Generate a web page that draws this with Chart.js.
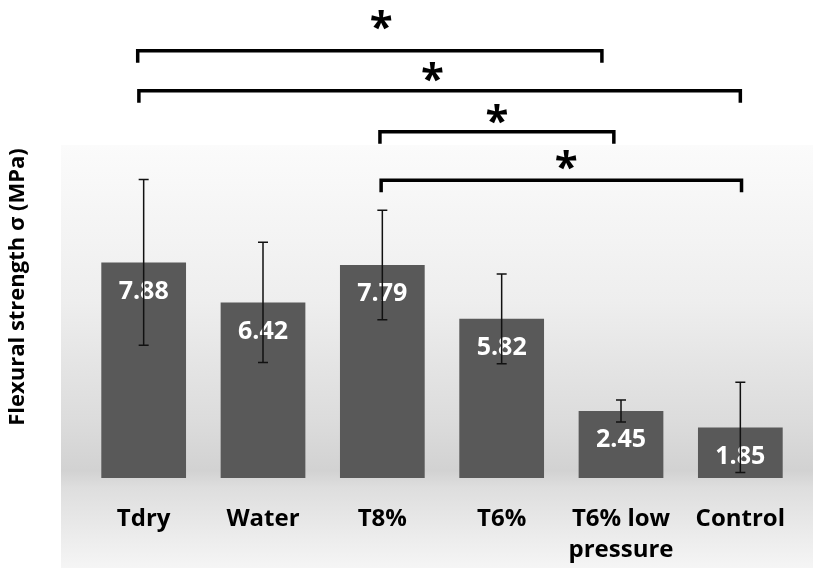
<!DOCTYPE html>
<html>
<head>
<meta charset="utf-8">
<script src="https://cdn.jsdelivr.net/npm/chart.js@4.4.0/dist/chart.umd.min.js"></script>
<style>
  html, body { margin: 0; padding: 0; background: #fff; }
  #wrap { width: 813px; height: 568px; }
</style>
</head>
<body>
<div id="wrap"><canvas id="chart" width="813" height="568"></canvas></div>
<script>
// --- data ---
const categories = ['Tdry', 'Water', 'T8%', 'T6%', ['T6% low', 'pressure'], 'Control'];
const strength = [7.88, 6.42, 7.79, 5.82, 2.45, 1.85];
const errors = [3.03, 2.2, 2.0, 1.64, 0.4, 1.65];

// significance brackets: [from index, to index, height (MPa)]
const bracketFrom = [-0.05, -0.04, 1.98, 1.99];
const bracketTo = [3.84, 5.0, 3.94, 5.01];
const bracketLevel = [15.62, 14.16, 12.66, 10.89];
const starPos = [1.99, 2.42, 2.96, 3.54];
const starLevel = [16.72, 14.82, 13.28, 11.6];

const FONT = '"Open Sans", "DejaVu Sans", sans-serif';

// background panel with grey gradient
const backdrop = {
    id: 'backdrop',
    beforeDraw(chart) {
        const ctx = chart.ctx;
        const top = 145, left = 61;
        const g = ctx.createLinearGradient(0, top, 0, chart.height);
        g.addColorStop(0, '#fbfbfb');
        g.addColorStop(0.37, '#eeeeee');
        g.addColorStop(0.65, '#dcdcdc');
        g.addColorStop(0.77, '#d2d2d2');
        g.addColorStop(0.81, '#dedede');
        g.addColorStop(1, '#f5f5f5');
        ctx.save();
        ctx.fillStyle = g;
        ctx.fillRect(left, top, chart.width - left, chart.height - top);
        ctx.restore();
    }
};

// error bars, value labels, brackets, y title
const overlay = {
    id: 'overlay',
    afterDatasetsDraw(chart) {
        const ctx = chart.ctx;
        const x = chart.scales.x, y = chart.scales.y;
        ctx.save();

        // value labels
        ctx.fillStyle = '#ffffff';
        ctx.font = 'bold 25px ' + FONT;
        ctx.textAlign = 'center';
        ctx.textBaseline = 'middle';
        strength.forEach((v, i) => {
            ctx.fillText(v.toFixed(2), x.getPixelForValue(i), y.getPixelForValue(v) + 29);
        });

        // error bars
        ctx.strokeStyle = '#111111';
        ctx.lineWidth = 1.5;
        strength.forEach((v, i) => {
            const cx = x.getPixelForValue(i);
            const yt = y.getPixelForValue(v + errors[i]);
            const yb = y.getPixelForValue(v - errors[i]);
            ctx.beginPath();
            ctx.moveTo(cx, yt); ctx.lineTo(cx, yb);
            ctx.moveTo(cx - 5, yt); ctx.lineTo(cx + 5, yt);
            ctx.moveTo(cx - 5, yb); ctx.lineTo(cx + 5, yb);
            ctx.stroke();
        });

        // brackets
        ctx.strokeStyle = '#000000';
        ctx.lineWidth = 3.5;
        ctx.lineJoin = 'miter';
        bracketLevel.forEach((lv, i) => {
            const x1 = x.getPixelForValue(bracketFrom[i]);
            const x2 = x.getPixelForValue(bracketTo[i]);
            const yy = y.getPixelForValue(lv);
            ctx.beginPath();
            ctx.moveTo(x1, yy + 12);
            ctx.lineTo(x1, yy);
            ctx.lineTo(x2, yy);
            ctx.lineTo(x2, yy + 12);
            ctx.stroke();
        });

        // stars
        ctx.fillStyle = '#000000';
        ctx.font = 'bold 42px ' + FONT;
        starLevel.forEach((lv, i) => {
            ctx.fillText('*', x.getPixelForValue(starPos[i]), y.getPixelForValue(lv) + 8);
        });

        // y axis title
        ctx.translate(18, 287);
        ctx.rotate(-Math.PI / 2);
        ctx.font = 'bold 22px ' + FONT;
        ctx.fillText('Flexural strength σ (MPa)', 0, 0);
        ctx.restore();
    }
};

new Chart(document.getElementById('chart'), {
    type: 'bar',
    data: {
        labels: categories,
        datasets: [{
            data: strength,
            backgroundColor: '#595959',
            barPercentage: 0.71,
            categoryPercentage: 1.0
        }]
    },
    options: {
        responsive: false,
        animation: false,
        layout: { padding: { left: 84, right: 13, top: 13, bottom: 2 } },
        plugins: { legend: { display: false }, tooltip: { enabled: false } },
        scales: {
            x: {
                grid: { display: false },
                border: { display: false },
                afterFit(scale) { scale.height = 88; },
                ticks: {
                    color: '#000000',
                    font: { family: FONT, size: 24, weight: 'bold', lineHeight: 1.28 },
                    padding: 18,
                    maxRotation: 0,
                    autoSkip: false
                }
            },
            y: {
                display: false,
                min: 0,
                max: 17
            }
        }
    },
    plugins: [backdrop, overlay]
});
</script>
</body>
</html>
